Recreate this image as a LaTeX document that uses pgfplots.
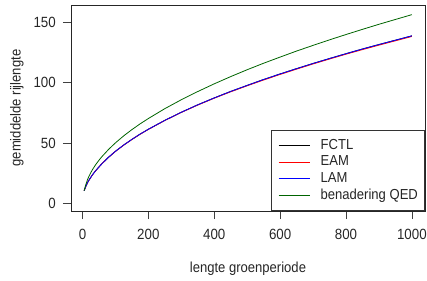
\documentclass[border=0pt]{standalone}
\usepackage{pgfplots}
\pgfplotsset{compat=1.18}
\usepackage{fontspec}
\setmainfont{Liberation Sans}[FakeStretch=0.9]
\definecolor{qedgreen}{RGB}{0,100,0}
\pgfplotstableread{
x fctl eam lam qed
5 10.5 10.5 10.5 10.5
10 14.0 14.0 14.0 15.5
15 17.0 17.0 17.0 19.5
20 19.4 19.4 19.4 22.7
30 23.6 23.6 23.6 27.9
40 27.1 27.1 27.1 32.1
50 30.2 30.2 30.2 35.8
60 33.2 33.2 33.2 39.1
80 38.5 38.4 38.5 45.0
100 43.2 43.1 43.2 50.2
125 48.4 48.3 48.4 56.0
150 53.1 53.0 53.1 61.2
175 57.5 57.4 57.5 66.0
200 61.5 61.4 61.5 70.4
250 68.9 68.8 68.9 78.6
300 75.6 75.5 75.6 86.0
350 81.8 81.6 81.8 92.8
400 87.5 87.3 87.5 99.2
450 92.9 92.6 92.9 105.2
500 97.9 97.6 97.9 110.9
550 102.8 102.4 102.8 116.3
600 107.4 107.0 107.4 121.4
650 111.8 111.4 111.8 126.4
700 116.1 115.7 116.1 131.1
750 120.2 119.8 120.2 135.7
800 124.2 123.8 124.2 140.1
850 128.1 127.6 128.1 144.4
900 131.8 131.3 131.8 148.6
950 135.4 134.9 135.4 152.6
1000 139.0 138.5 139.0 156.6
}\datatable
\begin{document}
\begin{tikzpicture}[x=1bp,y=1bp]
\useasboundingbox (0,0) rectangle (427,281);
\begin{axis}[
  at={(71bp,70bp)}, anchor=south west,
  width=354bp, height=206bp, scale only axis,
  xmin=-34.8, xmax=1039.8, ymin=-6.3, ymax=164.6,
  xtick={0,200,400,600,800,1000}, ytick={0,50,100,150},
  tick align=outside, tick pos=left,
  major tick length=8bp,
  tick style={black!75, line width=0.75bp},
  axis line style={black!85, line width=0.75bp},
  font=\fontsize{14.5bp}{17bp}\selectfont,
  /pgf/number format/assume math mode=true,
  /pgf/number format/1000 sep={},
  yticklabel style={anchor=east, inner sep=0pt, text=black!85, xshift=-7bp, font=\fontsize{14.8bp}{17bp}\selectfont},
  xticklabel style={anchor=north, inner sep=0pt, text=black!85, yshift=-10bp, font=\fontsize{14.8bp}{17bp}\selectfont},
  xlabel={lengte groenperiode}, ylabel={gemiddelde rijlengte},
  xlabel style={at={(axis description cs:0.5,-0.281)}, anchor=center, inner sep=0pt, text=black!85},
  ylabel style={at={(axis description cs:-0.153,0.5)}, anchor=center, inner sep=0pt, text=black!85},
  legend style={at={(axis description cs:1,0)}, anchor=south east,
    draw=black!80, line width=0.75bp, fill=white,
    inner xsep=6.7bp, inner ysep=8.5bp,
    font=\fontsize{14.5bp}{17bp}\selectfont, text=black!85,
    nodes={inner sep=0pt, text height=10.5bp, text depth=3bp},
    row sep=3.2bp,
    /tikz/every odd column/.append style={column sep=10.5bp}},
  legend cell align=left,
  legend image code/.code={\path (-6.3bp,0bp) -- (25bp,0bp); \draw[#1] (0bp,0bp) -- (25bp,0bp);},
  every axis plot/.append style={line width=0.8bp},
]
\addplot[black, no markers] table[x=x, y=fctl] {\datatable};
\addlegendentry{FCTL}
\addplot[red, no markers] table[x=x, y=eam] {\datatable};
\addlegendentry{EAM}
\addplot[blue, no markers] table[x=x, y=lam] {\datatable};
\addlegendentry{LAM}
\addplot[qedgreen, no markers] table[x=x, y=qed] {\datatable};
\addlegendentry{benadering QED}
\end{axis}
\end{tikzpicture}
\end{document}
